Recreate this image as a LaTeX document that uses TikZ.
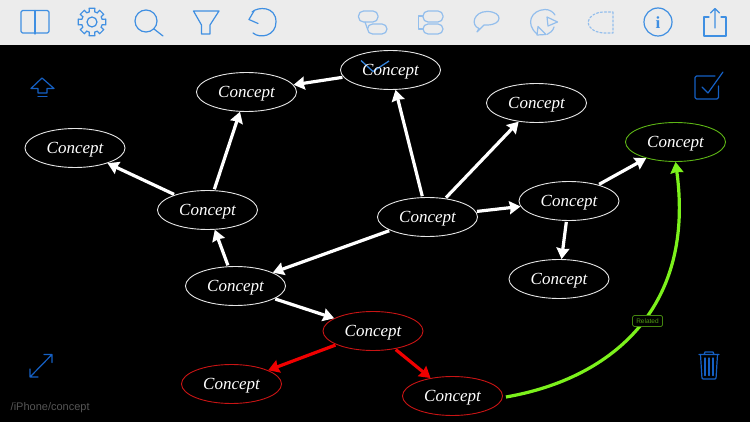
\documentclass[tikz,border=0pt]{standalone}
\usepackage{fontspec}
\setmainfont{Liberation Sans}
\newfontfamily\conceptfont{Liberation Serif}
\usetikzlibrary{arrows.meta,shapes.geometric,calc}
\definecolor{barbg}{HTML}{ECECEC}
\definecolor{tool}{HTML}{3F8FE2}
\definecolor{toollight}{HTML}{93BEEC}
\definecolor{deep}{HTML}{1560C4}
\definecolor{relgreen}{HTML}{7CF11C}
\definecolor{relred}{HTML}{F00000}
\definecolor{ellred}{HTML}{C81414}
\definecolor{pathgray}{HTML}{555555}
\newcommand{\cpt}{\raisebox{-5.8pt}[0pt][0pt]{Concept}}
\tikzset{
 concept/.style={ellipse,draw=#1,line width=0.9pt,fill=black,minimum width=100pt,minimum height=39pt,inner sep=0pt,text=white,font=\conceptfont\itshape\fontsize{17}{17}\selectfont},
 concept/.default={white!90!black},
 headtip/.style={-{Stealth[length=11pt,width=13pt,inset=1pt]}},
 link/.style={line width=3.2pt,white,headtip,shorten <=1pt},
 redlink/.style={link,relred},
 icon/.style={tool,line width=1.2pt,line join=round,line cap=round},
 iconl/.style={toollight,line width=1.2pt,line join=round,line cap=round},
 icond/.style={deep,line width=1.2pt,line join=round,line cap=round},
}
\begin{document}
\begin{tikzpicture}[x=1pt,y=-1pt]
\useasboundingbox (0,0) rectangle (750,422);
\fill[black] (0,0) rectangle (750,422);
\fill[barbg] (0,0) rectangle (750,45);
% toolbar, left
\draw[icon,rounded corners=1.5pt] (21,10.5) rectangle (49,33);
\draw[icon] (35,10.5) -- (35,34);
\foreach \i in {0,45,...,315}{
 \draw[icon] ($(92,22)+(\i-15:10.5)$) -- ($(92,22)+(\i-12:14)$) -- ($(92,22)+(\i+12:14)$) -- ($(92,22)+(\i+15:10.5)$) -- ($(92,22)+(\i+30:10.5)$);
}
\draw[icon] (92,22) circle[radius=5];
\draw[icon] (146,21) circle[radius=11] (154,29) -- (163,36);
\draw[icon] (193.5,11) -- (219,11) -- (210,25) -- (210,34) -- (201.5,34) -- (201.5,25) -- cycle;
\draw[icon] (252,12) .. controls (258,6.5) and (276,6) .. (276,22) .. controls (276,36) and (260,39) .. (253,33);
\draw[icon] (258,23.5) -- (249,19.5) -- (254,11);
% toolbar, right
\draw[iconl,rounded corners=5pt] (358.5,11) rectangle (378,22);
\draw[iconl,rounded corners=5pt] (367.5,24) rectangle (387,34);
\draw[iconl] (365,22) -- (367.5,29);
\draw[iconl,rounded corners=5pt] (423,11) rectangle (443,22);
\draw[iconl,rounded corners=5pt] (423,24) rectangle (443,34);
\draw[iconl] (423,16) -- (418.5,16) -- (418.5,29) -- (423,29);
\draw[iconl] (479,28.5) .. controls (470,25) and (474,11.5) .. (487,11.5) .. controls (503,11.5) and (503,25) .. (487,25) -- (484,25) -- (477,32) -- cycle;
\draw[iconl] (537,34) .. controls (525,24) and (531,10) .. (545,9.5) .. controls (550,9.5) and (553,12) .. (555,15);
\draw[iconl] (547,34.5) .. controls (550,33) and (553,31) .. (554,27);
\draw[iconl] (547,17) -- (557.5,22) -- (548,26) -- cycle;
\draw[iconl] (538,26.5) -- (546,34.5) -- (537,35) -- cycle;
\draw[iconl,dash pattern=on 2pt off 2pt] (613,12) -- (613,33) -- (603,33) .. controls (593,32) and (588,27) .. (588,22) .. controls (589,16) and (596,12) .. (604,12) -- cycle;
\draw[icon] (658,22) circle[radius=14];
\node[font=\conceptfont\bfseries\fontsize{17}{17}\selectfont,text=tool,inner sep=0pt] (infoglyph) at (658,22.5) {i};
\draw[icon] (709,17) -- (704,17) -- (704,36) -- (726,36) -- (726,17) -- (721,17);
\draw[icon] (715,28) -- (715,9) (710.5,13) -- (715,8.5) -- (719.5,13);
% side icons
\draw[icond] (42,78) -- (54,88.5) -- (47,88.5) -- (47,93) -- (38,93) -- (38,88.5) -- (31,88.5) -- cycle;
\draw[icond] (38,96.5) -- (47,96.5);
\draw[icond,rounded corners=1.5pt] (718.5,86) -- (718.5,99) -- (695,99) -- (695,76) -- (715,76);
\draw[icond] (702,87) -- (708,93) -- (723,72);
\draw[icond] (30,377) -- (52,354.5) (30,369) -- (30,377) -- (38,377) (44,354.5) -- (52,354.5) -- (52,362.5);
\draw[icond] (699,354.5) -- (719,354.5) (704,354.5) -- (705,352) -- (713,352) -- (714,354.5);
\draw[icond,rounded corners=1pt] (700.5,354.5) -- (702,379) -- (716,379) -- (717.5,354.5);
\foreach \x in {705,709,713}{\draw[icond] (\x,358) -- (\x,375.5);}
% blue tick under the label
\draw[line width=1.3pt,tool!70!deep] (361,60.5) -- (373,71.5) -- (389,61);
% nodes
\node[concept] (a) at (246.5,92) {\cpt};
\node[concept,fill=none] (b) at (390.5,70) {\cpt};
\node[concept] (c) at (536.5,103) {\cpt};
\node[concept] (d) at (75,148) {\cpt};
\node[concept=relgreen!75!black] (e) at (675.5,142) {\cpt};
\node[concept] (f) at (207.5,210) {\cpt};
\node[concept] (g) at (427.5,217) {\cpt};
\node[concept] (h) at (569,201) {\cpt};
\node[concept] (i) at (559,279) {\cpt};
\node[concept] (j) at (235.5,286) {\cpt};
\node[concept=ellred] (k) at (373,331) {\cpt};
\node[concept=ellred] (l) at (231.5,384) {\cpt};
\node[concept=ellred] (m) at (452.5,396) {\cpt};
% connectors
\draw[link] (b) -- (a);
\draw[link] (f) -- (a);
\draw[link] (f) -- (d);
\draw[link] (j) -- (f);
\draw[link] (g) -- (b);
\draw[link] (g) -- (c);
\draw[link] (g) -- (h);
\draw[link] (g) -- (j);
\draw[link] (h) -- (e);
\draw[link] (h) -- (i);
\draw[link] (j) -- (k);
\draw[redlink] (k) -- (l);
\draw[redlink] (k) -- (m);
\draw[relgreen,line width=3.2pt,headtip] (m.east) ++(3,1) coordinate (gs)
  .. controls (615,378) and (695,305) .. (e.south);
\node[draw=relgreen!55!black,fill=black,rounded corners=1.5pt,line width=0.7pt,text=relgreen!65!black,font=\fontsize{6.5}{6.5}\selectfont,minimum width=30pt,minimum height=11pt,inner sep=0pt] (rel) at (647.5,321) {Related};
\node[text=pathgray,font=\fontsize{11}{11}\selectfont,anchor=west,inner sep=0pt] (path) at (10.5,407.5) {/iPhone/concept};
\end{tikzpicture}
\end{document}
